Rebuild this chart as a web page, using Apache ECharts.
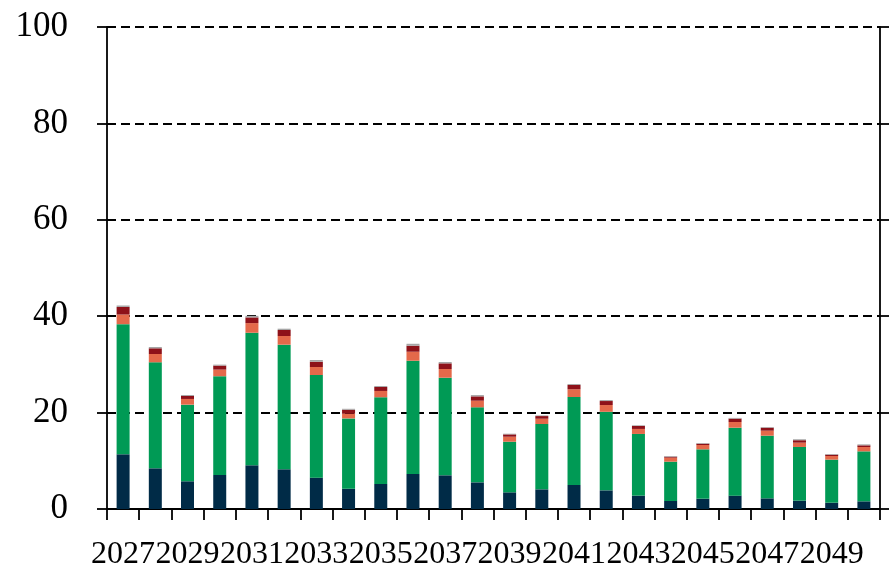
<!DOCTYPE html>
<html>
<head>
<meta charset="utf-8">
<script src="https://cdn.jsdelivr.net/npm/echarts@6/dist/echarts.min.js"></script>
<style>html,body{margin:0;padding:0;background:#fff;}#c{width:889px;height:568px;}</style>
</head>
<body>
<div id="c"></div>
<script>
var years = ['2027','2028','2029','2030','2031','2032','2033','2034','2035','2036','2037','2038','2039','2040','2041','2042','2043','2044','2045','2046','2047','2048','2049','2050'];
var seriesNavy   = [11.35, 8.44, 5.75, 7.05, 9.07, 8.24, 6.5, 4.2, 5.19, 7.26, 6.99, 5.53, 3.46, 4.08, 4.98, 3.87, 2.77, 1.66, 2.14, 2.77, 2.21, 1.73, 1.31, 1.59];
var seriesGreen  = [27.0, 22.0, 15.9, 20.5, 27.5, 25.85, 21.3, 14.6, 18.0, 23.5, 20.25, 15.57, 10.5, 13.55, 18.26, 16.3, 12.8, 8.16, 10.24, 14.1, 13.0, 11.14, 8.93, 10.37];
var seriesOrange = [2.0, 1.72, 1.18, 1.37, 2.0, 1.8, 1.66, 0.96, 1.3, 1.87, 1.8, 1.37, 1.04, 1.1, 1.6, 1.4, 1.04, 0.83, 0.9, 1.18, 1.04, 0.9, 0.76, 0.9];
var seriesRed    = [1.57, 1.18, 0.62, 0.83, 1.18, 1.25, 1.1, 0.83, 0.83, 1.25, 1.18, 0.9, 0.48, 0.55, 0.9, 0.83, 0.62, 0.2, 0.27, 0.7, 0.62, 0.5, 0.27, 0.35];
var seriesGrey   = [0.3, 0.27, 0.2, 0.2, 0.33, 0.27, 0.35, 0.2, 0.2, 0.4, 0.28, 0.27, 0.14, 0.14, 0.2, 0.2, 0.14, 0.14, 0.14, 0.15, 0.14, 0.2, 0.14, 0.2];
var yTicks = [0, 20, 40, 60, 80, 100];

var chart = echarts.init(document.getElementById('c'), null, {renderer: 'canvas'});
var font = 'Liberation Serif';
function bar(name, data, color) {
  return {name: name, type: 'bar', stack: 'total', data: data, barWidth: 13,
    itemStyle: {color: color}, emphasis: {disabled: true}};
}
chart.setOption({
  animation: false,
  textStyle: {fontFamily: font},
  grid: {left: 107, right: 9, top: 27, bottom: 59, containLabel: false, outerBoundsMode: 'none'},
  xAxis: {
    type: 'category', data: years,
    axisLine: {lineStyle: {color: '#000', width: 1.8}},
    axisTick: {show: true, interval: 0, length: 11, lineStyle: {color: '#000', width: 1.8}},
    axisLabel: {interval: 1, color: '#000', fontSize: 32, fontFamily: font, margin: 30}
  },
  yAxis: [{
    type: 'value', min: yTicks[0], max: yTicks[yTicks.length - 1], interval: 20,
    axisLine: {show: true, lineStyle: {color: '#000', width: 1.8}},
    axisTick: {show: true, length: 10, lineStyle: {color: '#000', width: 1.8}},
    axisLabel: {color: '#000', fontSize: 35, fontFamily: font, margin: 39},
    splitLine: {show: true, lineStyle: {color: '#000', width: 1.8, type: [9, 5]}}
  }, {
    type: 'value', position: 'right', min: yTicks[0], max: yTicks[yTicks.length - 1], interval: 20,
    axisLine: {show: true, lineStyle: {color: '#000', width: 1.8}},
    axisTick: {show: true, length: 9, lineStyle: {color: '#000', width: 1.8}},
    axisLabel: {show: false},
    splitLine: {show: false}
  }],
  series: [
    bar('a', seriesNavy, '#002B47'),
    bar('b', seriesGreen, '#009A55'),
    bar('c', seriesOrange, '#E4694A'),
    bar('d', seriesRed, '#8E1119'),
    bar('e', seriesGrey, '#A6A6A6')
  ]
});
</script>
</body>
</html>
